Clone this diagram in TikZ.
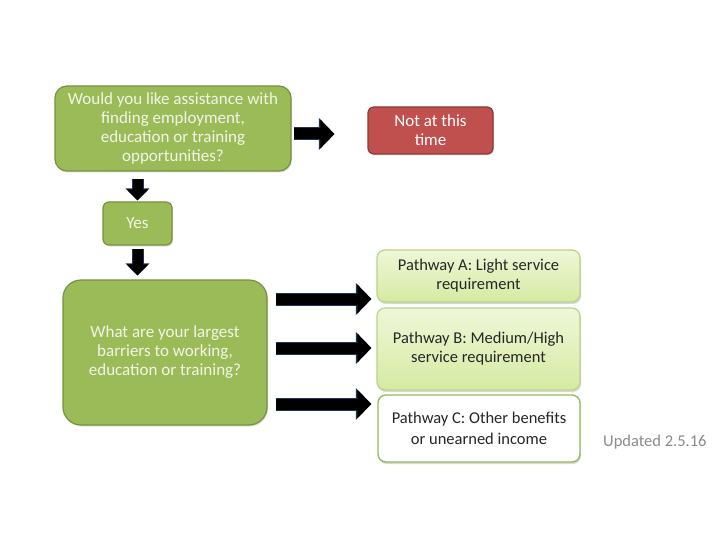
\documentclass[tikz,border=0pt]{standalone}
\usepackage{fontspec}
\setmainfont{Carlito}
\usetikzlibrary{arrows.meta,shadows,calc}
\definecolor{qgreen}{HTML}{9BBB59}
\definecolor{qgreenedge}{HTML}{76923C}
\definecolor{qtext}{HTML}{F2F5E6}
\definecolor{nred}{HTML}{C0504D}
\definecolor{nrededge}{HTML}{8C3836}
\definecolor{ptop}{HTML}{EEF7D8}
\definecolor{pbot}{HTML}{D6EAA2}
\definecolor{pedge}{HTML}{B9D38A}
\definecolor{navyedge}{HTML}{1F3556}
\definecolor{ptext}{HTML}{262626}
\definecolor{updgray}{HTML}{8A8A8A}
\tikzset{
  box/.style={align=center, inner sep=2pt, font=\fontsize{17}{19}\selectfont},
  qbox/.style={box, fill=qgreen, draw=qgreenedge, line width=1.2pt, text=qtext,
     drop shadow={shadow xshift=1pt, shadow yshift=-1.5pt, opacity=0.25}},
  nobox/.style={box, fill=nred, draw=nrededge, line width=1.2pt, text=white, rounded corners=6pt,
     drop shadow={shadow xshift=1pt, shadow yshift=-1.5pt, opacity=0.25}},
  pbox/.style={box, font=\fontsize{16.5}{19}\selectfont, top color=ptop, bottom color=pbot, draw=pedge, line width=1.2pt, text=ptext, rounded corners=8pt,
     drop shadow={shadow xshift=1pt, shadow yshift=-2pt, opacity=0.3}},
  pboxw/.style={box, font=\fontsize{16.5}{21}\selectfont, fill=white, draw=qgreen, line width=1.4pt, text=ptext, rounded corners=8pt,
     drop shadow={shadow xshift=1pt, shadow yshift=-2pt, opacity=0.3}},
  harrow/.style={line width=11pt, black, -{Triangle[length=14pt,width=28pt]},
     preaction={draw=navyedge, line width=13pt, -{Triangle[length=15.5pt,width=31pt]}}},
  varrow/.style={line width=10pt, black, -{Triangle[length=11pt,width=21pt]},
     preaction={draw=navyedge, line width=12pt, -{Triangle[length=12pt,width=23pt]}}},
}
\begin{document}
\begin{tikzpicture}[x=1pt,y=-1pt]
\useasboundingbox[fill=white] (0,0) rectangle (720,540);

\node[qbox, rounded corners=12pt, minimum width=236pt, minimum height=85pt] (q1) at (173,128.5)
  {Would you like assistance with\\finding employment,\\education or training\\opportunities?};
\node[nobox, minimum width=125pt, minimum height=47pt] (no) at (430.5,130.5) {Not at this\\time};
\node[qbox, rounded corners=6pt, minimum width=69pt, minimum height=43pt] (yes) at (137.5,223.5) {Yes};
\node[qbox, rounded corners=18pt, minimum width=204pt, minimum height=145pt] (q2) at (165,352.5)
  {What are your largest\\barriers to working,\\education or training?};

\node[pbox, minimum width=203pt, minimum height=52pt] (pa) at (478.5,276) {Pathway A: Light service\\requirement};
\node[pbox, minimum width=203pt, minimum height=82pt] (pb) at (478.5,349) {Pathway B: Medium/High\\service requirement};
\node[pboxw, minimum width=202pt, minimum height=67pt] (pc) at (479,428.5) {Pathway C: Other benefits\\or unearned income};

\node[font=\fontsize{16.5}{18}\selectfont, text=updgray, anchor=west, inner sep=0pt] (upd) at (603,442) {Updated 2.5.16};

% connectors
\draw[harrow] ([xshift=2pt,yshift=-5.5pt]q1.east) -- ([xshift=-33pt,yshift=-3.5pt]no.west);
\draw[varrow] ($(yes.north |- q1.south)+(0,7)$) -- ($(yes.north)+(0,-1)$);
\draw[varrow] ($(yes.south)+(0,3)$) -- ($(yes.south |- q2.north)+(0,-4)$);

\coordinate (ea) at ($(pa.west)+(-5,23)$);
\coordinate (eb) at ($(pb.west)+(-5,-1)$);
\coordinate (ec) at ($(pc.west)+(-6,-24.5)$);
\draw[harrow] ($(q2.east |- ea)+(8,0)$) -- (ea);
\draw[harrow] ($(q2.east |- eb)+(8,0)$) -- (eb);
\draw[harrow] ($(q2.east |- ec)+(8,0)$) -- (ec);
\end{tikzpicture}
\end{document}
